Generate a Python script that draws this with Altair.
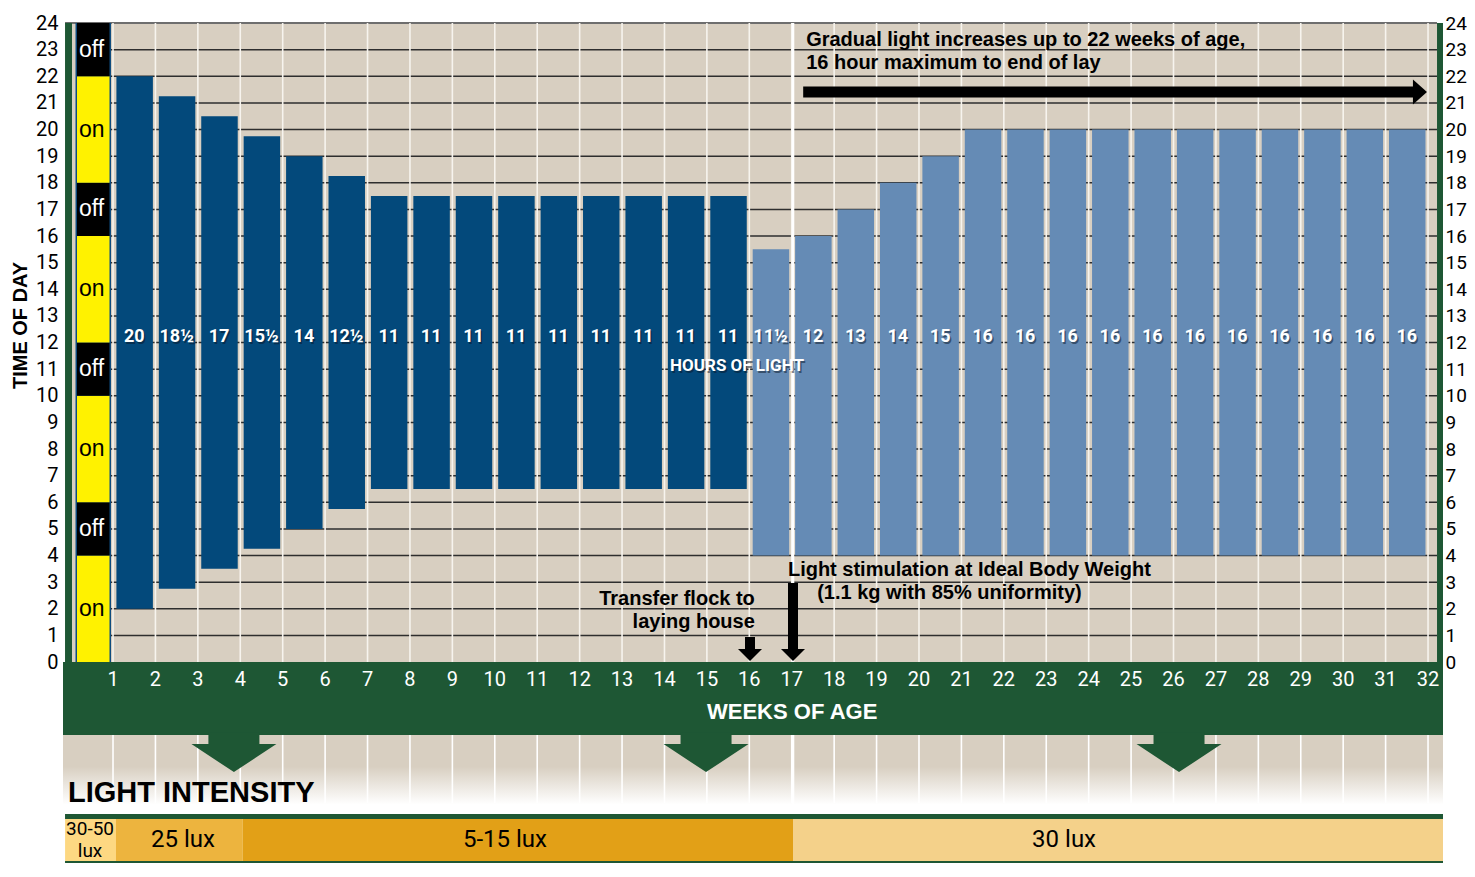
import altair as alt
import pandas as pd

# ---------------- data ----------------
bar_week = list(range(1, 32))
lights_on = [2, 2.75, 3.5, 4.25, 5, 5.75] + [6.5] * 9 + [4] * 16
lights_off = [22, 21.25, 20.5, 19.75, 19, 18.25] + [17.5] * 9 + [15.5, 16, 17, 18, 19] + [20] * 11
hours_label = ["20", "18½", "17", "15½", "14", "12½"] + ["11"] * 9 + ["11½", "12", "13", "14", "15"] + ["16"] * 11
phase = ["rearing"] * 15 + ["laying"] * 16

week_ticks = list(range(1, 33))
hour_ticks = list(range(0, 25))
grid_hours = list(range(1, 24))

strip_from = [0, 4, 6, 10, 12, 16, 18, 22]
strip_to = [4, 6, 10, 12, 16, 18, 22, 24]
strip_state = ["on", "off", "on", "off", "on", "off", "on", "off"]

lux_from = [-0.13, 1.07, 4.06, 17.03]
lux_to = [1.07, 4.06, 17.03, 32.353]
lux_name = ["30-50 lux", "25 lux", "5-15 lux", "30 lux"]

# ---------------- styles ----------------
BEIGE = "#D8CFC1"
GREEN = "#1E5734"
PHASE_COLORS = {"rearing": "#03497B", "laying": "#658BB5"}
YELLOW = "#FFF200"
LUX_COLORS = ["#FDD882", "#EDB43E", "#E2A017", "#F4D18A"]
NARROW = "Roboto, 'Liberation Sans', sans-serif"
SANS = "'Liberation Sans', Arial, sans-serif"

YBOT = -7.549
XS = alt.Scale(domain=[-0.179, 32.353], nice=False, zero=False)
YS = alt.Scale(domain=[YBOT, 24], nice=False, zero=False)


def X(f):
    return alt.X(f, type="quantitative", scale=XS, axis=None)


def Y(f, axis=None):
    return alt.Y(f, type="quantitative", scale=YS, axis=axis)


left_axis = alt.Axis(orient="left", values=hour_ticks, title="TIME OF DAY", grid=False,
                     domain=False, ticks=False, tickSize=0, labelPadding=5,
                     labelFont=NARROW, labelFontSize=20, labelColor="black",
                     labelFlush=False, labelOverlap=False,
                     titleFont=SANS, titleFontSize=20, titleFontWeight="bold",
                     titleColor="black", titleAngle=270, titleX=-43, titleY=302,
                     titleAlign="center", titleBaseline="middle")
right_axis = alt.Axis(orient="right", values=hour_ticks, title="", grid=False,
                      domain=False, ticks=False, tickSize=0, labelPadding=2,
                      labelFont=NARROW, labelFontSize=19, labelColor="black",
                      labelFlush=False, labelOverlap=False)


def rect_df(x0, x1, y0, y1):
    return pd.DataFrame({"x0": [x0], "x1": [x1], "y0": [y0], "y1": [y1]})


layers = []

# beige plot background (carries left axis)
layers.append(alt.Chart(rect_df(-0.131, 32.212, 0, 24)).mark_rect(color=BEIGE).encode(
    x=X("x0"), x2="x1", y=Y("y0", left_axis), y2="y1"))

# lower beige->white gradient area
grad = alt.LinearGradient(gradient="linear", x1=0, x2=0, y1=0, y2=1, stops=[
    alt.GradientStop(color=BEIGE, offset=0), alt.GradientStop(color=BEIGE, offset=0.4),
    alt.GradientStop(color="#FFFFFF", offset=0.88), alt.GradientStop(color="#FFFFFF", offset=1)])
layers.append(alt.Chart(rect_df(-0.179, 32.353, -5.709, -2.742)).mark_rect(color=grad).encode(
    x=X("x0"), x2="x1", y=Y("y0"), y2="y1"))

# horizontal grid lines
hg = pd.DataFrame({"h": grid_hours, "xa": 0.95, "xb": 32.212})
layers.append(alt.Chart(hg).mark_rule(color="#2E2E2E", strokeWidth=1.5).encode(
    x=X("xa"), x2="xb", y=Y("h")))
layers.append(alt.Chart(pd.DataFrame({"h": [24], "xa": -0.131, "xb": 32.212})).mark_rule(
    color="#6E6E6E", strokeWidth=2).encode(x=X("xa"), x2="xb", y=Y("h")))

# vertical white grid lines (upper and lower)
vg = pd.DataFrame({"w": week_ticks, "ya": 0, "yb": 24})
layers.append(alt.Chart(vg).mark_rule(color="#F7F4EE", strokeWidth=1.6).encode(
    x=X("w"), y=Y("ya"), y2="yb"))
vg2 = pd.DataFrame({"w": week_ticks, "ya": -5.3, "yb": -2.742})
layers.append(alt.Chart(vg2).mark_rule(color="#FFFFFF", strokeWidth=1.6).encode(
    x=X("w"), y=Y("ya"), y2="yb"))

# bars
bars = pd.DataFrame({"week": bar_week, "on": lights_on, "off": lights_off,
                     "label": hours_label, "phase": phase})
bars["fill"] = bars["phase"].map(PHASE_COLORS)
bars["xa"] = bars["week"] + 0.08
bars["xb"] = bars["week"] + 0.94
bars["xc"] = bars["week"] + 0.5
bars["ly"] = 12.2
layers.append(alt.Chart(bars).mark_rect().encode(
    x=X("xa"), x2="xb", y=Y("on"), y2="off", color=alt.Color("fill:N", scale=None)))

# thick white line at week 17
layers.append(alt.Chart(pd.DataFrame({"w": [17.03], "ya": 0, "yb": 24})).mark_rule(
    color="white", strokeWidth=2.6).encode(x=X("w"), y=Y("ya"), y2="yb"))
layers.append(alt.Chart(pd.DataFrame({"w": [17.03], "ya": -5.5, "yb": -2.742})).mark_rule(
    color="white", strokeWidth=2.6).encode(x=X("w"), y=Y("ya"), y2="yb"))

# on/off strip
layers.append(alt.Chart(rect_df(0.116, 0.953, 0, 24)).mark_rect(color="#0E4C7E").encode(
    x=X("x0"), x2="x1", y=Y("y0"), y2="y1"))
strip = pd.DataFrame({"a": strip_from, "b": strip_to, "state": strip_state})
strip["fill"] = strip["state"].map({"on": YELLOW, "off": "#000000"})
strip["tc"] = strip["state"].map({"on": "#000000", "off": "#FFFFFF"})
strip["mid"] = (strip["a"] + strip["b"]) / 2
strip["xa"] = 0.151
strip["xb"] = 0.917
strip["xt"] = 0.198
layers.append(alt.Chart(strip).mark_rect().encode(
    x=X("xa"), x2="xb", y=Y("a"), y2="b", color=alt.Color("fill:N", scale=None)))
layers.append(alt.Chart(strip).mark_text(font=SANS, fontSize=23, align="left", baseline="middle").encode(
    x=X("xt"), y=Y("mid"), text="state:N", color=alt.Color("tc:N", scale=None)))

# green borders
layers.append(alt.Chart(rect_df(-0.131, 0.033, 0, 24)).mark_rect(color=GREEN).encode(
    x=X("x0"), x2="x1", y=Y("y0"), y2="y1"))
layers.append(alt.Chart(rect_df(32.212, 32.353, 0, 24)).mark_rect(color=GREEN).encode(
    x=X("x0"), x2="x1", y=Y("y0", right_axis), y2="y1"))

# green week band
layers.append(alt.Chart(rect_df(-0.179, 32.353, -2.742, 0)).mark_rect(color=GREEN).encode(
    x=X("x0"), x2="x1", y=Y("y0"), y2="y1"))
wl = pd.DataFrame({"w": week_ticks, "y": -0.68, "t": [str(w) for w in week_ticks]})
layers.append(alt.Chart(wl).mark_text(font=NARROW, fontSize=20, color="white", align="center",
                                      baseline="middle").encode(x=X("w"), y=Y("y"), text="t:N"))
layers.append(alt.Chart(pd.DataFrame({"x": [17.01], "y": [-1.88], "t": ["WEEKS OF AGE"]})).mark_text(
    font=SANS, fontSize=22, fontWeight="bold", color="white", align="center", baseline="middle").encode(
    x=X("x"), y=Y("y"), text="t:N"))

# green down arrows
green_arrow = "M -0.6 -0.5 L 0.6 -0.5 L 0.6 -0.224 L 1 -0.224 L 0 0.435 L -1 -0.224 L -0.6 -0.224 Z"
ga = pd.DataFrame({"x": [3.85, 14.98, 26.13], "y": -3.44})
layers.append(alt.Chart(ga).mark_point(shape=green_arrow, filled=True, size=7225, color=GREEN,
                                       opacity=1, strokeWidth=0).encode(x=X("x"), y=Y("y")))

# bar labels with shadow
layers.append(alt.Chart(bars).mark_text(font=NARROW, fontSize=18, fontWeight="bold", color="#0A1626",
                                        opacity=0.5, dx=1.5, dy=2, align="center", baseline="middle").encode(
    x=X("xc"), y=Y("ly"), text="label:N"))
layers.append(alt.Chart(bars).mark_text(font=NARROW, fontSize=18, fontWeight="bold", color="white",
                                        align="center", baseline="middle").encode(
    x=X("xc"), y=Y("ly"), text="label:N"))
hol = pd.DataFrame({"x": [15.71], "y": [11.1], "t": ["HOURS OF LIGHT"]})
layers.append(alt.Chart(hol).mark_text(font=NARROW, fontSize=17, fontWeight="bold", color="#0A1626",
                                       opacity=0.5, dx=1.5, dy=2, align="center", baseline="middle").encode(
    x=X("x"), y=Y("y"), text="t:N"))
layers.append(alt.Chart(hol).mark_text(font=NARROW, fontSize=17, fontWeight="bold", color="white",
                                       align="center", baseline="middle").encode(
    x=X("x"), y=Y("y"), text="t:N"))

# black arrows
layers.append(alt.Chart(pd.DataFrame({"xa": [17.27], "xb": [31.72], "y": [21.41]})).mark_rule(
    color="black", strokeWidth=11).encode(x=X("xa"), x2="xb", y=Y("y")))
layers.append(alt.Chart(pd.DataFrame({"x": [31.81], "y": [21.41]})).mark_point(
    shape="M -0.56 -1 L 0.56 0 L -0.56 1 Z", filled=True, size=625, color="black", opacity=1,
    strokeWidth=0).encode(x=X("x"), y=Y("y")))
da = pd.DataFrame({"x": [16.016, 17.03], "ytop": [0.939, 2.967], "ybot": [0.46, 0.46], "yh": [0.263, 0.263]})
layers.append(alt.Chart(da).mark_rule(color="black", strokeWidth=10).encode(
    x=X("x"), y=Y("ytop"), y2="ybot"))
layers.append(alt.Chart(da).mark_point(shape="M -1 -0.5 L 1 -0.5 L 0 0.5 Z", filled=True, size=576,
                                       color="black", opacity=1, strokeWidth=0).encode(x=X("x"), y=Y("yh")))

# annotations
ann_left = pd.DataFrame({
    "x": [17.34, 17.34, 16.91, 17.60],
    "y": [23.36, 22.50, 3.455, 2.59],
    "t": ["Gradual light increases up to 22 weeks of age,", "16 hour maximum to end of lay",
          "Light stimulation at Ideal Body Weight", "(1.1 kg with 85% uniformity)"]})
layers.append(alt.Chart(ann_left).mark_text(font=SANS, fontSize=20, fontWeight="bold", color="black",
                                            align="left", baseline="middle").encode(
    x=X("x"), y=Y("y"), text="t:N"))
ann_right = pd.DataFrame({"x": [16.13, 16.13], "y": [2.366, 1.50],
                          "t": ["Transfer flock to", "laying house"]})
layers.append(alt.Chart(ann_right).mark_text(font=SANS, fontSize=20, fontWeight="bold", color="black",
                                             align="right", baseline="middle").encode(
    x=X("x"), y=Y("y"), text="t:N"))

# light intensity title
layers.append(alt.Chart(pd.DataFrame({"x": [-0.061], "y": [-4.92], "t": ["LIGHT INTENSITY"]})).mark_text(
    font=SANS, fontSize=29, fontWeight="bold", color="black", align="left", baseline="middle").encode(
    x=X("x"), y=Y("y"), text="t:N"))

# lux bar
layers.append(alt.Chart(rect_df(-0.131, 32.353, -5.897, -5.709)).mark_rect(color=GREEN).encode(
    x=X("x0"), x2="x1", y=Y("y0"), y2="y1"))
lux = pd.DataFrame({"a": lux_from, "b": lux_to, "name": lux_name, "fill": LUX_COLORS,
                    "ya": -7.474, "yb": -5.897})
layers.append(alt.Chart(lux).mark_rect().encode(
    x=X("a"), x2="b", y=Y("ya"), y2="yb", color=alt.Color("fill:N", scale=None)))
layers.append(alt.Chart(rect_df(-0.131, 32.353, YBOT, -7.474)).mark_rect(color=GREEN).encode(
    x=X("x0"), x2="x1", y=Y("y0"), y2="y1"))
lux_txt = pd.DataFrame({"x": [0.458, 0.458, 2.65, 10.24, 23.42],
                        "y": [-6.27, -7.08, -6.685, -6.685, -6.685],
                        "t": ["30-50", "lux", "25 lux", "5-15 lux", "30 lux"],
                        "s": [19, 19, 24, 24, 24]})
layers.append(alt.Chart(lux_txt).mark_text(font=NARROW, color="black", align="center",
                                           baseline="middle").encode(
    x=X("x"), y=Y("y"), text="t:N", size=alt.Size("s:Q", scale=None, legend=None)))

chart = alt.layer(*layers).resolve_axis(y="independent").properties(
    width=1380, height=840,
    padding={"left": 55, "top": 15, "right": 24, "bottom": 0},
    autosize=alt.AutoSizeParams(type="none"),
    background="white",
).configure_view(strokeWidth=0)

chart.save("out.html", embed_options={"renderer": "svg", "actions": False})
